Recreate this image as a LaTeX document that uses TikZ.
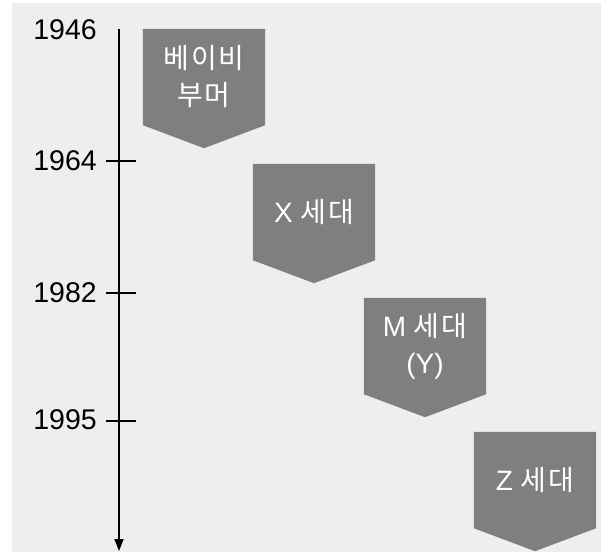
\documentclass[tikz,border=0pt]{standalone}
\usepackage{fontspec}
\setmainfont{Liberation Sans}
\newfontfamily\krfont[LetterSpace=6]{Noto Sans CJK KR}
\usetikzlibrary{arrows.meta,calc,backgrounds}
\definecolor{pagegray}{HTML}{EEEEEE}
\definecolor{boxgray}{HTML}{7F7F7F}
\tikzstyle{genbox}=[rectangle,minimum width=122pt,minimum height=96pt,inner sep=0pt,text=white,align=center,font=\fontsize{28}{37}\selectfont]
\tikzstyle{year}=[anchor=east,inner sep=0pt,font=\fontsize{28.5}{34}\selectfont]
\tikzstyle{axisline}=[line width=1.6pt]

\begin{document}
\begin{tikzpicture}[x=1pt,y=-1pt]
\useasboundingbox (0,0) rectangle (601,552);
% generations
\node[genbox] (boomer) at (204,77) {{\krfont 베이비}\\{\krfont 부머}};
\node[genbox] (genx) at (314,212) {X {\krfont 세대}};
\node[genbox] (geny) at (425,346) {M {\krfont 세대}\\(Y)};
\node[genbox] (genz) at (535,480) {Z {\krfont 세대}};
% years
\node[year] (y1946) at (97,30) {1946};
\node[year] (y1964) at (97,161) {1964};
\node[year] (y1982) at (97,293) {1982};
\node[year] (y1995) at (97,420) {1995};
% axis
\coordinate (axtop) at (119,29);
\coordinate (axend) at (119,551);
\draw[axisline,-{Triangle[width=9pt,length=12pt]}] (axtop) -- (axend);
\coordinate (t1964a) at (106,161);
\coordinate (t1964b) at (136,161);
\coordinate (t1982a) at (106,293);
\coordinate (t1982b) at (136,293);
\coordinate (t1995a) at (106,421);
\coordinate (t1995b) at (136,421);
\draw[axisline] (t1964a) -- (t1964b);
\draw[axisline] (t1982a) -- (t1982b);
\draw[axisline] (t1995a) -- (t1995b);
\begin{scope}[on background layer]
\fill[pagegray] (12,3) rectangle (601,552);
\foreach \g in {boomer,genx,geny,genz}
  \fill[boxgray] (\g.north west) -- (\g.north east) -- (\g.south east)
    -- ($(\g.south)+(0,23)$) -- (\g.south west) -- cycle;
\end{scope}
\end{tikzpicture}
\end{document}
